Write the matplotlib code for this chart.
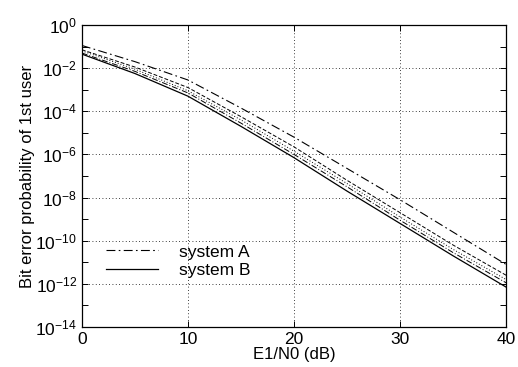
import numpy as np
import matplotlib
matplotlib.use("Agg")
import matplotlib.pyplot as plt
from matplotlib.ticker import FixedLocator, NullFormatter, LogFormatterMathtext

plt.rcParams['font.family'] = ['Liberation Sans', 'DejaVu Sans']
plt.rcParams['mathtext.fontset'] = 'custom'
plt.rcParams['mathtext.rm'] = 'Liberation Sans'

snr_db = [0, 5, 10, 15, 20, 25, 30, 35, 40]
# log10 of bit error probability
sysA_top = [-0.95, -1.7, -2.55, -3.85, -5.2, -6.65, -8.1, -9.6, -11.1]
curve_mid1 = [-1.15, -1.95, -2.9, -4.25, -5.65, -7.2, -8.7, -10.2, -11.6]
curve_mid2 = [-1.2, -2.05, -3.05, -4.4, -5.85, -7.35, -8.9, -10.4, -11.8]
curve_mid3 = [-1.3, -2.15, -3.15, -4.55, -6.0, -7.5, -9.05, -10.55, -11.95]
sysB_bot = [-1.35, -2.25, -3.3, -4.7, -6.15, -7.7, -9.2, -10.7, -12.15]

fig = plt.figure(figsize=(5.18, 3.67), dpi=100)
ax = fig.add_axes([0.158, 0.109, 0.819, 0.823])

x = np.array(snr_db)
l1, = ax.semilogy(x, 10.0 ** np.array(sysA_top), color='black', lw=0.8, ls=(0, (8, 3, 1.5, 3)))
ax.semilogy(x, 10.0 ** np.array(curve_mid1), color='black', lw=0.7, ls=(0, (4, 2)))
ax.semilogy(x, 10.0 ** np.array(curve_mid2), color='black', lw=0.7, ls=(0, (1, 2)))
ax.semilogy(x, 10.0 ** np.array(curve_mid3), color='black', lw=0.7, ls=(0, (6, 2, 1, 2)))
l2, = ax.semilogy(x, 10.0 ** np.array(sysB_bot), color='black', lw=0.9, ls='-')

ax.set_xlim(0, 40)
ax.set_ylim(1e-14, 1e0)
ax.set_xticks([0, 10, 20, 30, 40])
ax.yaxis.set_major_locator(FixedLocator([10.0 ** k for k in range(-14, 1, 2)]))
ax.yaxis.set_minor_locator(FixedLocator([10.0 ** k for k in range(-13, 0, 2)]))
ax.yaxis.set_minor_formatter(NullFormatter())
ax.yaxis.set_major_formatter(LogFormatterMathtext())

ax.grid(True, which='major', color='black', ls=(0, (1, 3)), lw=0.6)
ax.tick_params(which='both', direction='in', top=True, right=True, labelsize=12.5, length=4, width=0.7)
ax.tick_params(axis='y', which='minor', length=4)
for s in ax.spines.values():
    s.set_linewidth(0.9)

ax.set_xlabel('E1/N0 (dB)', fontsize=12, labelpad=0)
ax.set_ylabel('Bit error probability of 1st user', fontsize=12, labelpad=0)

ax.legend([l1, l2], ['system A', 'system B'], loc='lower left', bbox_to_anchor=(0.02, 0.11),
          frameon=False, fontsize=12.5, handlelength=3.0, handletextpad=1.2, labelspacing=0.2)

fig.savefig('out.png', dpi=100)
